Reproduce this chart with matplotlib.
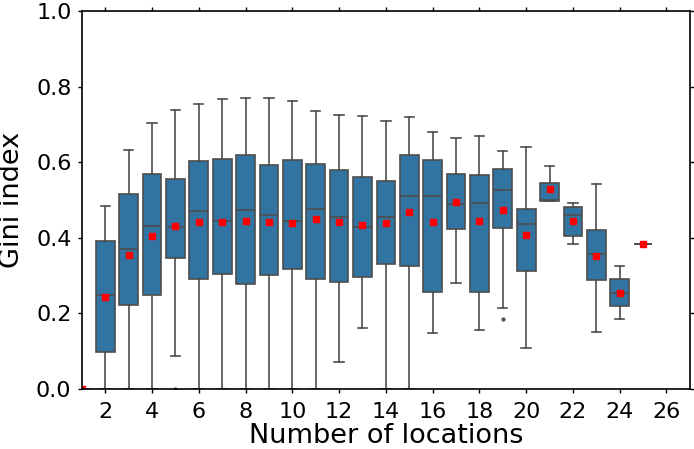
import matplotlib
matplotlib.use("Agg")
import matplotlib.pyplot as plt

# box statistics, one entry per number of locations
locations = list(range(1, 26))
whislo = [0.0, 0.0, 0.0, 0.0, 0.087, 0.0, 0.0, 0.0, 0.0, 0.0, 0.0, 0.071, 0.162,
          0.0, 0.0, 0.149, 0.280, 0.156, 0.213, 0.109, 0.497, 0.384, 0.152, 0.184, 0.384]
q1 = [0.0, 0.099, 0.221, 0.249, 0.347, 0.290, 0.304, 0.277, 0.302, 0.317, 0.290, 0.282, 0.295,
      0.330, 0.326, 0.256, 0.422, 0.256, 0.427, 0.313, 0.498, 0.406, 0.288, 0.220, 0.384]
med = [0.0, 0.249, 0.370, 0.431, 0.429, 0.470, 0.445, 0.473, 0.459, 0.445, 0.475, 0.454, 0.428,
       0.456, 0.511, 0.510, 0.489, 0.493, 0.526, 0.437, 0.500, 0.459, 0.357, 0.255, 0.384]
q3 = [0.0, 0.392, 0.516, 0.569, 0.556, 0.603, 0.609, 0.620, 0.593, 0.606, 0.595, 0.579, 0.560,
      0.551, 0.619, 0.605, 0.570, 0.567, 0.583, 0.477, 0.545, 0.481, 0.420, 0.290, 0.384]
whishi = [0.0, 0.484, 0.633, 0.703, 0.739, 0.753, 0.766, 0.769, 0.770, 0.761, 0.736, 0.726, 0.723,
          0.709, 0.720, 0.681, 0.663, 0.668, 0.630, 0.639, 0.589, 0.491, 0.541, 0.325, 0.384]
means = [0.0, 0.244, 0.354, 0.405, 0.431, 0.441, 0.441, 0.445, 0.441, 0.438, 0.449, 0.442, 0.434,
         0.440, 0.467, 0.441, 0.495, 0.445, 0.474, 0.407, 0.529, 0.445, 0.352, 0.255, 0.384]
fliers = {5: [0.0], 19: [0.184]}

stats = []
for i, n in enumerate(locations):
    stats.append({
        "med": med[i], "q1": q1[i], "q3": q3[i],
        "whislo": whislo[i], "whishi": whishi[i],
        "mean": means[i], "fliers": fliers.get(n, []),
    })

fig = plt.figure(figsize=(6.94, 4.49), dpi=100)
ax = fig.add_axes([0.118, 0.1336, 0.876, 0.842])

line_col = "#4d4d4d"
ax.bxp(stats, positions=locations, widths=0.8, patch_artist=True, showmeans=True,
       boxprops=dict(facecolor="#3274a1", edgecolor=line_col, linewidth=1.2),
       medianprops=dict(color=line_col, linewidth=1.2),
       whiskerprops=dict(color=line_col, linewidth=1.2),
       capprops=dict(color=line_col, linewidth=1.2),
       flierprops=dict(marker="o", markersize=2, markerfacecolor=line_col,
                       markeredgecolor=line_col),
       meanprops=dict(marker="s", markersize=4.5, markerfacecolor="red",
                      markeredgecolor="red"))

ax.set_xlim(1, 27)
ax.set_ylim(0, 1)
ax.set_xticks(range(2, 27, 2))
ax.set_xticklabels([str(t) for t in range(2, 27, 2)])
ax.set_yticks([0.0, 0.2, 0.4, 0.6, 0.8, 1.0])
ax.set_yticklabels(["0.0", "0.2", "0.4", "0.6", "0.8", "1.0"])
ax.tick_params(direction="out", top=True, right=True, length=3, width=1,
               labelsize=16)
ax.tick_params(axis="y", pad=4.5)
ax.tick_params(axis="x", pad=6)
for s in ax.spines.values():
    s.set_linewidth(1.2)
ax.set_xlabel("Number of locations", fontsize=19.5, labelpad=1)
ax.set_ylabel("Gini index", fontsize=19.5, labelpad=8)

fig.savefig("out.png", dpi=100)
